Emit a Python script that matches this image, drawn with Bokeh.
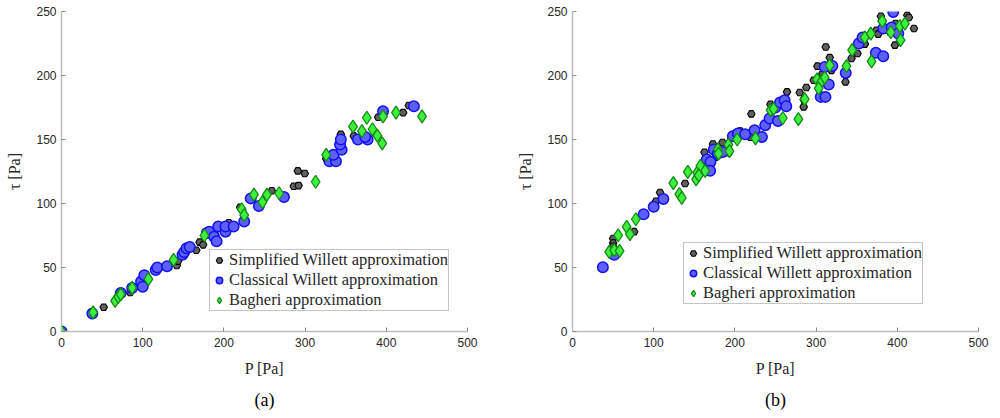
from bokeh.plotting import figure
from bokeh.models import Range1d, FixedTicker, Title
from bokeh.layouts import row
from bokeh.embed import file_html
from bokeh.resources import INLINE

# ---------------- data: panel (a) ----------------
sw_a_P = [52, 84.5, 142, 143.6, 166, 170, 174.4, 188, 206, 220, 241.7, 259, 286, 292, 291, 299.6,
          326, 344, 360, 390, 420.7, 427.7]
sw_a_T = [19, 30.5, 51.6, 55, 63.5, 69.8, 67.7, 77, 85, 97, 98.4, 110, 113.5, 114, 125.5, 123.4,
          135, 154, 152.8, 167.4, 171, 176.6]

cw_a_P = [0, 38, 73, 87, 98, 100, 102, 116, 118, 130, 149, 151, 154, 158, 179, 182, 188, 191, 193,
          202, 202, 212, 225, 233, 243, 274, 330, 338, 335, 345, 343, 344, 365, 377, 374, 396, 434]
cw_a_T = [0, 14, 30, 34, 39, 35, 44, 48, 50, 51, 60, 62, 65, 66, 77, 78, 74, 70.5, 82,
          78, 82, 82, 86, 104, 98, 105, 133, 133, 138, 142, 146, 150, 150, 150, 152, 172, 176]

ba_a_P = [0, 39, 66, 70, 73, 87, 107, 138, 176, 222, 225, 237, 247.5, 253, 268, 313, 326, 359,
          370, 376, 383, 389, 395, 396, 412, 444]
ba_a_T = [0, 15, 24, 27, 29, 34, 41, 56, 75, 95.5, 91, 107, 101, 107, 108, 117, 138, 160,
          156.5, 167, 158, 153, 147, 168, 171, 168]

# ---------------- data: panel (b) ----------------
sw_b_P = [50, 50, 50, 76, 102.8, 107.8, 138.6, 162.5, 173, 176, 184.7, 192.6, 206.5, 219, 220.2,
          243.8, 264.2, 279.8, 288, 284.7, 284.7, 297, 301.6, 307.8, 311.9, 316.8, 318.9, 336.2,
          343.6, 351, 360, 374.4, 376.5, 379.8, 390.9, 397.9, 397, 412.3, 414.3, 420.5]
sw_b_T = [72.6, 69.2, 66.6, 78, 101.8, 108.6, 115.6, 140, 146.5, 136.2, 147.6, 139.6, 156.6, 151.8, 170,
          177.5, 187.2, 186.7, 190.6, 181.3, 175.5, 196.3, 207.3, 201.6, 222.3, 214, 204, 195,
          213.3, 217.2, 224.5, 235.4, 232.3, 246.3, 234, 240.6, 223.7, 247, 245.3, 236.7]

cw_b_P = [37.4, 51.4, 87.6, 100, 111.9, 165.4, 169.9, 169.5, 174, 179, 185, 197.5, 203.7, 212.7,
          224.2, 233.3, 237.4, 242.7, 253, 249.8, 255.5, 261.2, 263.3, 305.7, 311.5, 315.6, 310.6,
          320, 336.5, 352.6, 357.2, 373.6, 382.7, 382.7, 393, 401.2, 395]
cw_b_T = [50.2, 60, 91.6, 97.4, 103.6, 134.4, 132.5, 125.5, 142.2, 139, 140.3, 152.6, 154.7, 154.1,
          157.3, 152, 161.2, 166.4, 164.5, 175, 179, 180.7, 176, 183.3, 183.3, 193, 206.7,
          207.5, 202, 225, 229.7, 217.7, 215, 236.7, 237.5, 232.8, 249.7]

ba_b_P = [45.2, 51.4, 58, 56.3, 66.7, 70.7, 78, 124.2, 131.6, 134.6, 142, 152.2, 153.5, 157.5, 163.3,
          155.5, 179, 179.8, 192, 193.3, 202.8, 225.4, 244, 247.7, 259, 278.2, 286, 301.2, 305.7,
          303.2, 310.6, 316.8, 337.4, 344.4, 360, 367.4, 368.3, 381.5, 392, 403.2, 409.4, 404]
ba_b_T = [62.2, 63.5, 63, 75.2, 81.7, 76, 87.7, 116, 107.3, 104.4, 124.7, 118.8, 124.2, 129.5, 125.5,
          122, 142.2, 139, 146, 141, 150, 150.8, 172.9, 174, 166.8, 165.9, 181.5, 197, 194.5,
          190, 198.4, 208, 207.3, 219.8, 229.7, 232.8, 211, 242.4, 233.8, 238.5, 240.6, 227.6]

x_ticks = [0, 100, 200, 300, 400, 500]
y_ticks = [0, 50, 100, 150, 200, 250]
series_labels = ["Simplified Willett approximation", "Classical Willett approximation",
                 "Bagheri approximation"]
x_label = "P [Pa]"
y_label = "τ [Pa]"

SERIF = "Liberation Serif"
SANS = "Liberation Sans"


def make_panel(sw, cw, ba, caption, width, left_border, right_border, legend_loc):
    p = figure(width=width, height=418, output_backend="svg", toolbar_location=None,
               x_range=Range1d(0, 500), y_range=Range1d(0, 250),
               min_border_left=left_border, min_border_right=right_border,
               min_border_top=11, min_border_bottom=87)
    p.outline_line_color = None
    p.xgrid.visible = False
    p.ygrid.visible = False

    p.scatter(sw[0], sw[1], marker="hex", size=7.5, fill_color="#606060",
              line_color="black", line_width=1.1, legend_label=series_labels[0])
    p.scatter(cw[0], cw[1], marker="circle", size=10.5, fill_color="#5f5fff",
              line_color="#1010f0", line_width=1.5, legend_label=series_labels[1])
    p.scatter(ba[0], ba[1], marker="diamond", size=13, fill_color="#3ef03e",
              line_color="#138a13", line_width=1.3, legend_label=series_labels[2])

    for ax, ticks in ((p.xaxis, x_ticks), (p.yaxis, y_ticks)):
        ax.ticker = FixedTicker(ticks=ticks)
        ax.minor_tick_line_color = None
        ax.major_tick_in = 4
        ax.major_tick_out = 0
        ax.major_tick_line_color = "#8c8c8c"
        ax.axis_line_color = "#bdbdbd"
        ax.axis_line_width = 1.5
        ax.major_label_text_font = SANS
        ax.major_label_text_font_size = "12px"
        ax.major_label_text_color = "#262626"
        ax.axis_label_text_font = SERIF
        ax.axis_label_text_font_size = "16px"
        ax.axis_label_text_font_style = "normal"
        ax.axis_label_text_color = "#262626"
    p.xaxis.axis_label = x_label
    p.yaxis.axis_label = y_label
    p.xaxis.major_label_standoff = 6
    p.xaxis.axis_label_standoff = 10
    p.yaxis.major_label_standoff = 5
    p.yaxis.axis_label_standoff = 10

    lg = p.legend[0]
    lg.location = legend_loc
    lg.label_text_font = SERIF
    lg.label_text_font_size = "16.5px"
    lg.label_text_line_height = 1.0
    lg.label_text_color = "#262626"
    lg.label_height = 16
    lg.glyph_height = 16
    lg.glyph_width = 18
    lg.label_standoff = 1
    lg.spacing = -3
    lg.padding = 0
    lg.margin = 0
    lg.border_line_color = "#8c8c8c"
    lg.border_line_width = 1
    lg.background_fill_color = "white"
    lg.background_fill_alpha = 1

    t = Title(text=caption, align="center", text_font=SERIF, text_font_size="18px",
              text_font_style="normal", text_color="black", standoff=17)
    p.add_layout(t, "below")
    return p


pa = make_panel((sw_a_P, sw_a_T), (cw_a_P, cw_a_T), (ba_a_P, ba_a_T), "(a)", 514, 61, 47, (148, 20))
pb = make_panel((sw_b_P, sw_b_T), (cw_b_P, cw_b_T), (ba_b_P, ba_b_T), "(b)", 483, 58, 19, (111, 27))

layout = row(pa, pb)
open("out.html", "w").write(file_html(layout, INLINE))
